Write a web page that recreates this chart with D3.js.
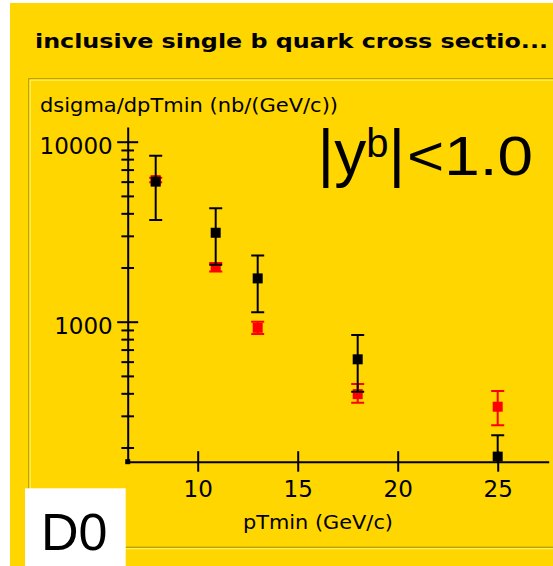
<!DOCTYPE html>
<html>
<head>
<meta charset="utf-8">
<script src="https://cdnjs.cloudflare.com/ajax/libs/d3/7.8.5/d3.min.js"></script>
<style>
	html, body { margin: 0; padding: 0; background: #fff; }
	svg { display: block; }
	.tick-label { font-family: 'DejaVu Sans', sans-serif; font-size: 23px; fill: #000; }
	.plain { font-family: 'DejaVu Sans', sans-serif; font-size: 20px; fill: #000; }
	.big { font-family: 'Liberation Sans', Arial, sans-serif; fill: #000; }
</style>
</head>
<body>
<div id="chart"></div>
<script>
// data
const pTmin = [7.9, 10.9, 13, 18, 25];
const blackValues = [6000, 3120, 1740, 618, 178];
const blackHigh = [8360, 4270, 2330, 843, 234];
const blackLow = [3670, 2070, 1130, 408, 120];
const redValues = [6120, 2013, 925, 396, 337];
const redHigh = [6300, 2119, 1000, 451, 412];
const redLow = [5950, 1901, 855, 355, 266];

const xTickValues = [10, 15, 20, 25];
const yTickValues = [200, 300, 400, 500, 600, 700, 800, 900, 1000,
	2000, 3000, 4000, 5000, 6000, 7000, 8000, 9000, 10000];
const yLabelValues = [1000, 10000];

const titleText = 'inclusive single b quark cross sectio...';
const yTitle = 'dsigma/dpTmin (nb/(GeV/c))';
const xTitle = 'pTmin (GeV/c)';
const tagText = 'D0';

// dimension stuff
const WIDTH = 553;
const HEIGHT = 566;
const YELLOW = '#FFD600';

const scaleX = d3.scaleLinear().domain([6.5, 27.55]).range([127.7, 548.7]);
const scaleY = d3.scaleLog().domain([166.8, 12070]).range([461.7, 127]);

const $svg = d3.select('#chart').append('svg')
	.attr('width', WIDTH)
	.attr('height', HEIGHT);

// background + etched panel
$svg.append('rect')
	.attr('x', 10).attr('y', 3)
	.attr('width', WIDTH - 10).attr('height', HEIGHT - 3)
	.attr('fill', YELLOW);

$svg.append('rect')
	.attr('x', 28.8).attr('y', 78.8)
	.attr('width', 600).attr('height', 468.5)
	.attr('fill', 'none').attr('stroke', '#B89A00').attr('stroke-width', 1.3);
$svg.append('rect')
	.attr('x', 30.1).attr('y', 80.1)
	.attr('width', 600).attr('height', 468.5)
	.attr('fill', 'none').attr('stroke', '#FFF45A').attr('stroke-width', 1.3);

// title
$svg.append('text')
	.attr('x', 35).attr('y', 47.5)
	.attr('font-family', "'DejaVu Sans', sans-serif")
	.attr('font-weight', 'bold')
	.attr('font-size', 20)
	.attr('textLength', 513)
	.attr('lengthAdjust', 'spacingAndGlyphs')
	.text(titleText);

$svg.append('text')
	.attr('class', 'plain')
	.attr('x', 40).attr('y', 112)
	.attr('textLength', 298)
	.attr('lengthAdjust', 'spacingAndGlyphs')
	.text(yTitle);

$svg.append('text')
	.attr('class', 'plain')
	.attr('x', 243).attr('y', 529)
	.attr('textLength', 150)
	.attr('lengthAdjust', 'spacingAndGlyphs')
	.text(xTitle);

// axes
const axisY = d3.axisLeft(scaleY)
	.tickValues(yTickValues)
	.tickSize(0)
	.tickPadding(0)
	.tickFormat(d => (yLabelValues.includes(d) ? d : ''));

const $axisY = $svg.append('g')
	.attr('transform', `translate(${scaleX.range()[0]},0)`)
	.call(axisY);

$axisY.select('.domain').attr('stroke', '#000').attr('stroke-width', 2);
$axisY.selectAll('.tick line')
	.attr('stroke', '#000')
	.attr('stroke-width', 2)
	.attr('x1', d => (yLabelValues.includes(d) ? -10.5 : -6.3))
	.attr('x2', d => (yLabelValues.includes(d) ? 10.5 : 6.3));
$axisY.selectAll('.tick text')
	.attr('class', 'tick-label')
	.attr('font-size', null).attr('font-family', null)
	.attr('x', -15)
	.attr('dy', 11.6)
	.attr('text-anchor', 'end');

const axisX = d3.axisBottom(scaleX)
	.tickValues(xTickValues)
	.tickSize(0)
	.tickPadding(0);

const $axisX = $svg.append('g')
	.attr('transform', `translate(0,${scaleY.range()[0]})`)
	.call(axisX);

$axisX.select('.domain').attr('stroke', '#000').attr('stroke-width', 2);
$axisX.selectAll('.tick line')
	.attr('stroke', '#000')
	.attr('stroke-width', 2)
	.attr('y1', -10.5)
	.attr('y2', 10);
$axisX.selectAll('.tick text')
	.attr('class', 'tick-label')
	.attr('font-size', null).attr('font-family', null)
	.attr('y', 35)
	.attr('dy', 0);

// little corner marker
$svg.append('rect')
	.attr('x', scaleX.range()[0] - 2.5)
	.attr('y', scaleY.range()[0] - 2.5)
	.attr('width', 5).attr('height', 5)
	.attr('fill', '#000');

// data
$svg.append('clipPath').attr('id', 'plot-clip')
	.append('rect')
	.attr('x', scaleX.range()[0]).attr('y', scaleY.range()[1])
	.attr('width', scaleX.range()[1] - scaleX.range()[0])
	.attr('height', scaleY.range()[0] - scaleY.range()[1]);

const $vis = $svg.append('g').attr('clip-path', 'url(#plot-clip)');

function drawSeries(values, high, low, color) {
	const rows = values.map((v, i) => ({ x: pTmin[i], v, hi: high[i], lo: low[i] }));
	const $g = $vis.append('g');
	const CAP = 6.5;
	const SIZE = 10;

	const $pt = $g.selectAll('g.pt').data(rows).enter().append('g');

	$pt.append('line')
		.attr('x1', d => scaleX(d.x)).attr('x2', d => scaleX(d.x))
		.attr('y1', d => scaleY(d.hi)).attr('y2', d => scaleY(d.lo));
	$pt.append('line')
		.attr('x1', d => scaleX(d.x) - CAP).attr('x2', d => scaleX(d.x) + CAP)
		.attr('y1', d => scaleY(d.hi)).attr('y2', d => scaleY(d.hi));
	$pt.append('line')
		.attr('x1', d => scaleX(d.x) - CAP).attr('x2', d => scaleX(d.x) + CAP)
		.attr('y1', d => scaleY(d.lo)).attr('y2', d => scaleY(d.lo));
	$pt.selectAll('line').attr('stroke', color).attr('stroke-width', 2);

	$pt.append('rect')
		.attr('x', d => scaleX(d.x) - SIZE / 2)
		.attr('y', d => scaleY(d.v) - SIZE / 2)
		.attr('width', SIZE).attr('height', SIZE)
		.attr('fill', color);
}

drawSeries(redValues, redHigh, redLow, '#FF0000');
drawSeries(blackValues, blackHigh, blackLow, '#000');

// |y^b|<1.0 label
const $lab = $svg.append('text')
	.attr('class', 'big')
	.attr('x', 317.5).attr('y', 175)
	.attr('font-size', 64);
$lab.append('tspan').text('|y');
$lab.append('tspan').attr('font-size', 40).attr('dy', -18).text('b');
$lab.append('tspan').attr('dy', 18).text('|');

$svg.append('text')
	.attr('class', 'big')
	.attr('x', 407).attr('y', 175)
	.attr('font-size', 55)
	.attr('textLength', 126)
	.attr('lengthAdjust', 'spacingAndGlyphs')
	.text('<1.0');

// D0 tag
$svg.append('rect')
	.attr('x', 25).attr('y', 488.3)
	.attr('width', 100.7).attr('height', HEIGHT - 488.3)
	.attr('fill', '#fff');
$svg.append('text')
	.attr('class', 'big')
	.attr('x', 41).attr('y', 550)
	.attr('font-size', 52)
	.text(tagText);
</script>
</body>
</html>
